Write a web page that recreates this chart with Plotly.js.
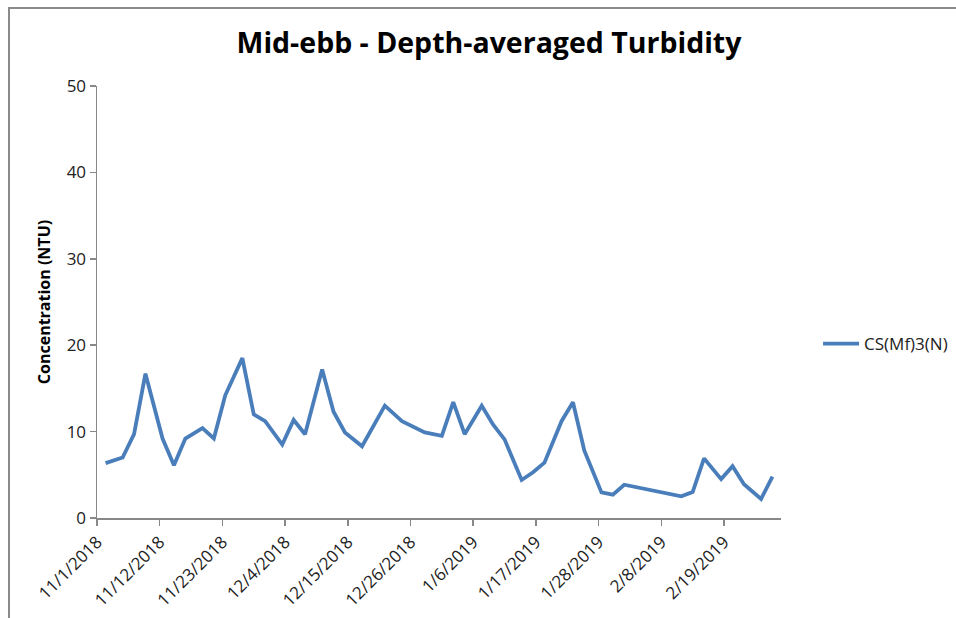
<!DOCTYPE html>
<html>
<head>
<meta charset="utf-8">
<script src="https://cdn.plot.ly/plotly-3.0.1.min.js"></script>
<style>
  html, body { margin: 0; padding: 0; background: #fff; overflow: hidden; }
  #chart { width: 956px; height: 618px; position: absolute; left: 0; top: 0; }
  #frame { position: absolute; left: 8px; top: 7px; width: 1000px; height: 1000px;
           border: 2px solid #8a8a8a; pointer-events: none; box-sizing: border-box; }
</style>
</head>
<body>
<div id="chart"></div>
<div id="frame"></div>
<script>
const dates = [
  "2018-11-02 12:00","2018-11-05 12:00","2018-11-07 12:00","2018-11-09 12:00","2018-11-12 12:00","2018-11-14 12:00",
  "2018-11-16 12:00","2018-11-19 12:00","2018-11-21 12:00","2018-11-23 12:00","2018-11-26 12:00","2018-11-28 12:00",
  "2018-11-30 12:00","2018-12-03 12:00","2018-12-05 12:00","2018-12-07 12:00","2018-12-10 12:00","2018-12-12 12:00",
  "2018-12-14 12:00","2018-12-17 12:00","2018-12-21 12:00","2018-12-24 12:00","2018-12-28 12:00","2018-12-31 12:00",
  "2019-01-02 12:00","2019-01-04 12:00","2019-01-07 12:00","2019-01-09 12:00","2019-01-11 12:00","2019-01-14 12:00",
  "2019-01-16 12:00","2019-01-18 12:00","2019-01-21 12:00","2019-01-23 12:00","2019-01-25 12:00","2019-01-28 12:00",
  "2019-01-30 12:00","2019-02-01 12:00","2019-02-11 12:00","2019-02-13 12:00","2019-02-15 12:00","2019-02-18 12:00",
  "2019-02-20 12:00","2019-02-22 12:00","2019-02-25 12:00","2019-02-27 12:00"
];
const turbidity = [
  6.35, 7.0, 9.7, 16.7, 9.2, 6.1,
  9.2, 10.4, 9.2, 14.2, 18.5, 12.0,
  11.2, 8.5, 11.35, 9.7, 17.2, 12.3,
  9.9, 8.3, 13.0, 11.2, 9.9, 9.5,
  13.4, 9.7, 13.0, 10.8, 9.1, 4.4,
  5.3, 6.4, 11.2, 13.4, 7.8, 2.96,
  2.7, 3.85, 2.5, 3.0, 6.9, 4.5,
  6.0, 3.9, 2.2, 4.8
];
const seriesName = "CS(Mf)3(N)";
const tickDates = ["2018-11-01","2018-11-12","2018-11-23","2018-12-04","2018-12-15","2018-12-26",
                   "2019-01-06","2019-01-17","2019-01-28","2019-02-08","2019-02-19"];
const tickLabels = ["11/1/2018","11/12/2018","11/23/2018","12/4/2018","12/15/2018","12/26/2018",
                    "1/6/2019","1/17/2019","1/28/2019","2/8/2019","2/19/2019"];
const yTicks = [0, 10, 20, 30, 40, 50];

const font = "'Open Sans', Lato, 'Liberation Sans', sans-serif";

Plotly.newPlot("chart", [{
  x: dates, y: turbidity, name: seriesName, type: "scatter", mode: "lines",
  line: { color: "#4a7ebb", width: 3.8 }
}], {
  width: 956, height: 618,
  margin: { l: 97, r: 175, t: 86, b: 100 },
  paper_bgcolor: "#fff", plot_bgcolor: "#fff",
  font: { family: font, size: 16, color: "#222" },
  title: { text: "<b>Mid-ebb - Depth-averaged Turbidity</b>", x: 0.5115, xref: "container", xanchor: "center",
           y: 0.93, yref: "container", yanchor: "middle", font: { family: font, size: 28.5, color: "#000" } },
  xaxis: {
    type: "date", range: ["2018-11-01", "2019-03-01"],
    tickmode: "array", tickvals: tickDates, ticktext: tickLabels,
    tickangle: -45, ticks: "outside", ticklen: 6, tickcolor: "#888", tickwidth: 1.5,
    showline: true, linecolor: "#888", linewidth: 1.5, showgrid: false, zeroline: false,
    tickfont: { size: 17, color: "#222" }
  },
  yaxis: {
    range: [0, 50], tickmode: "array", tickvals: yTicks,
    ticks: "outside", ticklen: 6, tickcolor: "#888", tickwidth: 1.5,
    showline: true, linecolor: "#888", linewidth: 1.5, showgrid: false, zeroline: false,
    tickfont: { size: 17, color: "#222" },
    title: { text: "<b>Concentration (NTU)</b>", font: { size: 16, color: "#000" }, standoff: 12 }
  },
  showlegend: true,
  legend: { xref: "container", yref: "container", x: 0.8557, xanchor: "left",
            y: 1 - 344 / 618, yanchor: "middle", font: { size: 17, color: "#222" },
            itemwidth: 36, bgcolor: "rgba(0,0,0,0)" }
}, { displayModeBar: false, staticPlot: true });
</script>
</body>
</html>
